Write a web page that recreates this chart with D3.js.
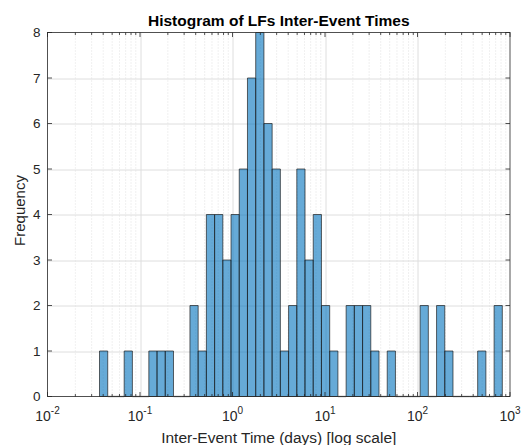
<!DOCTYPE html>
<html>
<head>
<meta charset="utf-8">
<script src="https://cdn.jsdelivr.net/npm/d3@7"></script>
<style>
  html, body { margin: 0; padding: 0; background: #fff; }
  svg { display: block; }
</style>
</head>
<body>
<div id="chart"></div>
<script>
// Histogram data: 49 log-spaced bins between binMin and binMax (days)
const binMin = 0.0365;
const binMax = 826;
const counts = [
  1, 0, 0, 1, 0, 0, 1, 1, 1, 0,
  0, 2, 1, 4, 4, 3, 4, 5, 7, 8,
  6, 5, 1, 2, 5, 3, 4, 2, 1, 0,
  2, 2, 2, 1, 0, 1, 0, 0, 0, 2,
  0, 2, 1, 0, 0, 0, 1, 0, 2
];
const xDomain = [1e-2, 1e3];
const yDomain = [0, 8];
const xTickExps = [-2, -1, 0, 1, 2, 3];
const yTicks = [0, 1, 2, 3, 4, 5, 6, 7, 8];

const width = 524;
const height = 445;
const margin = { top: 32.5, right: 14, bottom: 48.5, left: 47.5 };
const innerW = width - margin.left - margin.right;
const innerH = height - margin.top - margin.bottom;

const axisColor = '#262626';
const gridColor = '#dedede';
const font = "'Liberation Sans', Arial, Helvetica, sans-serif";

const logMin = Math.log10(binMin);
const logMax = Math.log10(binMax);
const bins = counts.map((c, i) => ({
  x0: Math.pow(10, logMin + (logMax - logMin) * i / counts.length),
  x1: Math.pow(10, logMin + (logMax - logMin) * (i + 1) / counts.length),
  count: c,
}));

const x = d3.scaleLog().domain(xDomain).range([0, innerW]);
const y = d3.scaleLinear().domain(yDomain).range([innerH, 0]);

const svg = d3.select('#chart')
  .append('svg')
  .attr('width', width)
  .attr('height', height)
  .style('font-family', font);

const g = svg.append('g').attr('transform', `translate(${margin.left},${margin.top})`);

/* Minor x grid (dotted) */
const minorVals = [];
for (let e = -2; e < 3; e++) {
  for (let m = 2; m <= 9; m++) minorVals.push(m * Math.pow(10, e));
}
g.append('g')
  .selectAll('line')
  .data(minorVals)
  .join('line')
  .attr('x1', (d) => x(d)).attr('x2', (d) => x(d))
  .attr('y1', 0).attr('y2', innerH)
  .attr('stroke', '#d4d4d4')
  .attr('stroke-width', 0.7)
  .attr('stroke-dasharray', '1,2');

/* Major grid */
g.append('g')
  .selectAll('line')
  .data(xTickExps.slice(1, -1))
  .join('line')
  .attr('x1', (d) => Math.round(x(Math.pow(10, d))) + 0.5)
  .attr('x2', (d) => Math.round(x(Math.pow(10, d))) + 0.5)
  .attr('y1', 0).attr('y2', innerH)
  .attr('stroke', gridColor);

g.append('g')
  .selectAll('line')
  .data(yTicks.slice(1, -1))
  .join('line')
  .attr('x1', 0).attr('x2', innerW)
  .attr('y1', (d) => Math.round(y(d)) + 0.5)
  .attr('y2', (d) => Math.round(y(d)) + 0.5)
  .attr('stroke', gridColor);

/* Bars (zero bins drawn as outline on baseline) */
g.append('g')
  .selectAll('path')
  .data(bins)
  .join('path')
  .attr('d', (d) => {
    const xa = x(d.x0), xb = x(d.x1), y0 = y(0), yt = y(d.count);
    return d.count > 0
      ? `M${xa},${y0}V${yt}H${xb}V${y0}Z`
      : `M${xa},${y0}H${xb}`;
  })
  .attr('fill', (d) => (d.count > 0 ? '#0072BD' : 'none'))
  .attr('fill-opacity', 0.6)
  .attr('stroke', (d) => (d.count > 0 ? '#1a1a1a' : '#8c8c8c'))
  .attr('stroke-opacity', (d) => (d.count > 0 ? 0.85 : 1))
  .attr('stroke-width', (d) => (d.count > 0 ? 0.8 : 1.4));

/* Box frame */
g.append('rect')
  .attr('x', 0).attr('y', 0)
  .attr('width', innerW).attr('height', innerH)
  .attr('fill', 'none')
  .attr('stroke', axisColor)
  .attr('stroke-width', 0.8);

/* Ticks (inside, on all four sides) */
const ticks = g.append('g').attr('stroke', axisColor).attr('stroke-width', 0.8);
const majorX = xTickExps.map((e) => Math.pow(10, e));
[[majorX, 4.5], [minorVals, 2.5]].forEach(([vals, len]) => {
  vals.forEach((v) => {
    const px = x(v);
    ticks.append('line').attr('x1', px).attr('x2', px).attr('y1', innerH).attr('y2', innerH - len);
    ticks.append('line').attr('x1', px).attr('x2', px).attr('y1', 0).attr('y2', len);
  });
});
yTicks.forEach((v) => {
  const py = y(v);
  ticks.append('line').attr('x1', 0).attr('x2', 4.5).attr('y1', py).attr('y2', py);
  ticks.append('line').attr('x1', innerW).attr('x2', innerW - 4.5).attr('y1', py).attr('y2', py);
});

/* Y tick labels */
g.append('g')
  .selectAll('text')
  .data(yTicks)
  .join('text')
  .attr('x', -7)
  .attr('y', (d) => y(d))
  .attr('dy', '0.36em')
  .attr('text-anchor', 'end')
  .attr('fill', axisColor)
  .attr('font-size', 13.5)
  .text((d) => d);

/* X tick labels: 10^n */
const xl = g.append('g')
  .selectAll('text')
  .data(xTickExps)
  .join('text')
  .attr('x', (d) => x(Math.pow(10, d)))
  .attr('y', innerH + 24.5)
  .attr('text-anchor', 'middle')
  .attr('fill', axisColor)
  .attr('font-size', 14);
xl.append('tspan').text('10');
xl.append('tspan')
  .attr('dy', -7)
  .attr('font-size', 10)
  .text((d) => (d < 0 ? '-' + Math.abs(d) : d));

/* Axis labels and title */
svg.append('text')
  .attr('x', margin.left + innerW / 2)
  .attr('y', height - 2.5)
  .attr('text-anchor', 'middle')
  .attr('fill', axisColor)
  .attr('font-size', 15.5)
  .text('Inter-Event Time (days) [log scale]');

svg.append('text')
  .attr('transform', `translate(25,${margin.top + innerH / 2 - 4}) rotate(-90)`)
  .attr('text-anchor', 'middle')
  .attr('fill', axisColor)
  .attr('font-size', 15)
  .text('Frequency');

svg.append('text')
  .attr('x', margin.left + innerW / 2)
  .attr('y', 26)
  .attr('text-anchor', 'middle')
  .attr('fill', '#000')
  .attr('font-size', 15.5)
  .attr('font-weight', 'bold')
  .text('Histogram of LFs Inter-Event Times');
</script>
</body>
</html>
